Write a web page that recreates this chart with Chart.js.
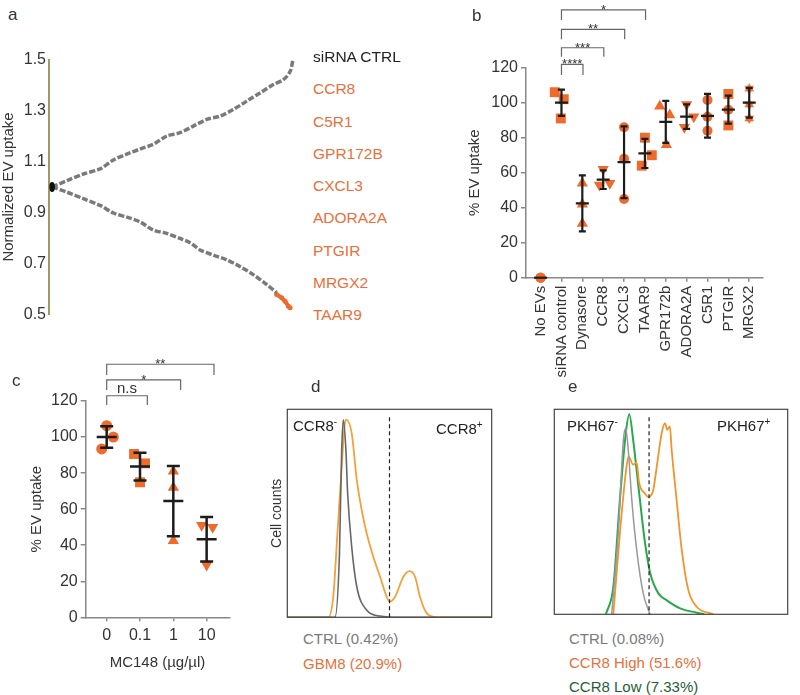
<!DOCTYPE html>
<html>
<head>
<meta charset="utf-8">
<script src="https://cdn.jsdelivr.net/npm/chart.js@4.4.1/dist/chart.umd.min.js"></script>
<style>
body{margin:0;background:#fff;font-family:"Liberation Sans",Arial,sans-serif;color:#333;}
#wrap{position:relative;width:800px;height:695px;overflow:hidden;}
canvas{position:absolute;}
.t{position:absolute;white-space:nowrap;font-size:15px;line-height:18px;}
.lab{position:absolute;font-size:17px;line-height:20px;color:#333;}
.gene{position:absolute;left:313px;font-size:15.5px;line-height:18px;color:#e8703a;white-space:nowrap;}
sup{font-size:10px;}
</style>
</head>
<body>
<div id="wrap">
  <canvas id="chartA" width="300" height="280" style="left:0;top:47px"></canvas>
  <canvas id="chartB" width="340" height="380" style="left:460px;top:0"></canvas>
  <canvas id="chartC" width="260" height="355" style="left:0;top:340px"></canvas>
  <canvas id="chartD" width="240" height="230" style="left:262px;top:400px"></canvas>
  <canvas id="chartE" width="255" height="230" style="left:540px;top:400px"></canvas>

  <div class="lab" style="left:8px;top:5px">a</div>
  <div class="lab" style="left:472px;top:6px">b</div>
  <div class="lab" style="left:12px;top:371px">c</div>
  <div class="lab" style="left:311px;top:377px">d</div>
  <div class="lab" style="left:568px;top:377px">e</div>
  <div id="genes"></div>

  <div class="t" style="left:293px;top:413px;color:#222">CCR8<sup>-</sup></div>
  <div class="t" style="left:436px;top:416px;color:#222">CCR8<sup>+</sup></div>
  <div class="t" style="left:303px;top:630px;color:#7a7a7a">CTRL (0.42%)</div>
  <div class="t" style="left:303px;top:655px;color:#e8703a">GBM8 (20.9%)</div>

  <div class="t" style="left:567px;top:413px;color:#222">PKH67<sup>-</sup></div>
  <div class="t" style="left:717px;top:413px;color:#222">PKH67<sup>+</sup></div>
  <div class="t" style="left:569px;top:630px;color:#7a7a7a">CTRL (0.08%)</div>
  <div class="t" style="left:569px;top:654px;color:#e8703a">CCR8 High (51.6%)</div>
  <div class="t" style="left:569px;top:678px;color:#1f5e35">CCR8 Low (7.33%)</div>
</div>

<script>
// ---- panel a : ranked siRNA screen ----
const rankUp = [0,6.2,13,19.9,25.4,31,36.5,42,47.6,53.1,58.6,64.2,69.7,75.2,80.8,86.3,91.8,96,98.8,100];
const upUptake = [1.0,1.025,1.051,1.071,1.106,1.129,1.149,1.168,1.2,1.213,1.239,1.265,1.278,1.304,1.337,1.369,1.402,1.421,1.453,1.5];
const rankDown = [0,6.1,13,19.9,25.4,31,36.5,42,47.6,53.1,57.3,61.4,66.9,72.5,78,83.5,89.1,93.2];
const downUptake = [1.0,0.98,0.954,0.928,0.898,0.882,0.863,0.831,0.818,0.798,0.781,0.753,0.733,0.714,0.688,0.656,0.617,0.585];
const rankHits = [93.2,95.3,96.7,98.1,98.8];
const hitUptake = [0.578,0.565,0.552,0.532,0.526];
const startUptake = 1.0;
const geneLabels = ["siRNA CTRL","CCR8","C5R1","GPR172B","CXCL3","ADORA2A","PTGIR","MRGX2","TAAR9"];

// ---- panel b : validation ----
const groupsB = ["No EVs","siRNA control","Dynasore","CCR8","CXCL3","TAAR9","GPR172b","ADORA2A","C5R1","PTGIR","MRGX2"];
const repsB = [[0,0,0],[106,102,91],[54,31,42],[62,53,54],[86,68,45],[80,64,70],[98,93,76],[99,86,92],[101.5,84,92],[105,87,96],[108,91,99]];
const meanB = [0,100,42.5,56,66,71,89,92,92.5,96,100];
const sdB = [0,7.5,16,5.3,20.5,8.3,12,7,12.5,8,8.5];
const sigB = [["****",1,2],["***",1,3],["**",1,4],["*",1,5]];

// ---- panel c : MC148 dose ----
const dosesC = ["0","0.1","1","10"];
const repsC = [[106.3,100,93.4],[90.6,85.4,74.9],[81,72,42.5],[51,50,29]];
const meanC = [100,83.6,64.5,43.3];
const sdC = [6,7.7,19.5,12.4];
const sigC = [["n.s",0,1],["*",0,2],["**",0,3]];

// ---- panel d : CCR8 histogram ----
const dGrayX = [0,23.3,25.5,26.6,27.4,28.7,29.5,31.5,34,38.8,45.4,55,100];
const dGrayY = [0,0,30,80,95,80,60,34,14.7,3.5,0.6,0,0];
const dGbmX = [0,20,22.5,24.5,26.6,28,28.8,31.5,34,36.4,38.8,42.1,45.4,48.6,50.1,52.7,56.8,59.8,62.5,64.9,68.2,73,100];
const dGbmY = [0,0,10,40,72,92,95,88.5,66,51.6,40.5,29,19.5,9.9,7.5,9.9,19.5,22.2,19.5,9.9,2,0,0];
const gateD = 50;

// ---- panel e : PKH67 histogram ----
const eGrayX = [24.6,27.4,29.6,30.6,31.7,33.2,35.3,38.1,41];
const eGrayY = [0,39.5,85,90.7,80,55.8,31.4,10.2,0];
const eLowX = [22.1,25.3,28.1,30.6,32.1,33.8,36.3,38.9,41.1,44.6,48.2,53.9,61.1,64.3];
const eLowY = [0,13.5,55.8,88,97.6,85,59.7,34.6,20,10.2,6.8,2.9,0.8,0];
const eHighX = [25.3,28.1,30.6,31.8,33.8,35.3,36.3,38.9,40.3,42.4,43.9,46,47.4,48.4,49.5,50.3,52.4,54.6,57.4,61,68.1];
const eHighY = [0,39.5,68.8,77,73,74,64.4,58.8,57.2,60.6,72,88.3,93.2,90,91.6,80,55.8,31.4,11.9,3.7,0];
const gateE = 40.6;

const ORANGE = '#ef6a2b';
Chart.defaults.font.family = "'Liberation Sans', Arial, sans-serif";
Chart.defaults.color = '#333';

document.getElementById('genes').innerHTML = geneLabels.map((g,i)=>
  '<div class="gene" style="top:'+(48+i*32.25)+'px;'+(i===0?'color:#222':'')+'">'+g+'</div>').join('');

const xy = (xs,ys)=>xs.map((x,i)=>({x:x,y:ys[i]}));

function star6(){
  const c=document.createElement('canvas'); c.width=11; c.height=11;
  const g=c.getContext('2d'); g.fillStyle=ORANGE;
  g.beginPath(); g.moveTo(5.5,0); g.lineTo(10.3,8.25); g.lineTo(0.7,8.25); g.closePath(); g.fill();
  g.beginPath(); g.moveTo(5.5,11); g.lineTo(0.7,2.75); g.lineTo(10.3,2.75); g.closePath(); g.fill();
  return c;
}

function errorPlugin(means, sds, st){
  return {id:'errorBars', afterDatasetsDraw(chart){
    const {ctx, scales:{x,y}} = chart;
    ctx.save(); ctx.strokeStyle='#1c1c1c'; ctx.lineWidth=st.w;
    means.forEach((m,i)=>{
      const cx=x.getPixelForValue(i), ym=y.getPixelForValue(m);
      const yt=y.getPixelForValue(m+sds[i]), yb=y.getPixelForValue(m-sds[i]);
      ctx.beginPath();
      ctx.moveTo(cx-st.mean,ym); ctx.lineTo(cx+st.mean,ym);
      if(sds[i]>0){
        ctx.moveTo(cx,yt); ctx.lineTo(cx,yb);
        ctx.moveTo(cx-st.cap,yt); ctx.lineTo(cx+st.cap,yt);
        ctx.moveTo(cx-st.cap,yb); ctx.lineTo(cx+st.cap,yb);
      }
      ctx.stroke();
    });
    ctx.restore();
  }};
}

function bracketPlugin(sig, levels, st){
  return {id:'brackets', afterDraw(chart){
    const {ctx, scales:{x,y}} = chart;
    ctx.save(); ctx.strokeStyle='#666'; ctx.lineWidth=1.2; ctx.fillStyle='#333';
    ctx.textAlign='center'; ctx.textBaseline='alphabetic';
    sig.forEach((s,i)=>{
      const x1=x.getPixelForValue(s[1]), x2=x.getPixelForValue(s[2]+st.shift);
      const yt=y.getPixelForValue(levels[i][0]), yl=y.getPixelForValue(levels[i][1]);
      ctx.beginPath(); ctx.moveTo(x1,yl); ctx.lineTo(x1,yt); ctx.lineTo(x2,yt); ctx.lineTo(x2,yl); ctx.stroke();
      const star = s[0].indexOf('*')===0;
      ctx.font = (star?st.star:st.text)+"px 'Liberation Sans', Arial, sans-serif";
      ctx.fillText(s[0], (x1+x2)/2, yt + (star?st.starDy:st.textDy));
    });
    ctx.restore();
  }};
}

function framePlugin(gate){
  return {id:'frame', afterDatasetsDraw(chart){
    const {ctx, chartArea:a, scales:{x}} = chart;
    ctx.save();
    ctx.strokeStyle='#444'; ctx.lineWidth=1.2;
    ctx.strokeRect(a.left,a.top,a.right-a.left,a.bottom-a.top);
    const gx=x.getPixelForValue(gate);
    ctx.setLineDash([4,3]); ctx.strokeStyle='#222';
    ctx.beginPath(); ctx.moveTo(gx,a.top+8); ctx.lineTo(gx,a.bottom); ctx.stroke();
    ctx.restore();
  }};
}

const originDot = {id:'originDot', afterDatasetsDraw(chart){
  const {ctx, scales:{x,y}} = chart;
  ctx.save(); ctx.fillStyle='#111';
  ctx.beginPath(); ctx.ellipse(x.getPixelForValue(0), y.getPixelForValue(startUptake), 2.8, 5, 0, 0, Math.PI*2); ctx.fill();
  ctx.restore();
}};

const noTip = {legend:{display:false}, tooltip:{enabled:false}};

// ===== panel a =====
new Chart(document.getElementById('chartA'), {
  type:'scatter',
  data:{datasets:[
    {data:xy(rankUp,upUptake), showLine:true, borderColor:'#7a7a7a', borderWidth:3.5, borderDash:[6,2], pointRadius:0, tension:0.3, clip:false},
    {data:xy(rankDown,downUptake), showLine:true, borderColor:'#7a7a7a', borderWidth:3.5, borderDash:[6,2], pointRadius:0, tension:0.3, clip:false},
    {data:xy(rankHits,hitUptake), showLine:true, borderColor:ORANGE, borderWidth:4, pointRadius:2.5, pointBackgroundColor:ORANGE, pointBorderWidth:0, clip:false}
  ]},
  options:{responsive:false, animation:false, layout:{padding:{left:0,top:10.5,right:7,bottom:12}}, plugins:noTip,
    scales:{
      x:{type:'linear', display:false, min:-1.3, max:100},
      y:{min:0.5, max:1.5, ticks:{stepSize:0.2, padding:3, font:{size:16}, color:'#333', callback:v=>v.toFixed(1)},
         grid:{display:false, drawTicks:false}, border:{color:'#a39763', width:2},
         title:{display:true, text:'Normalized EV uptake', font:{size:15}, color:'#333', padding:{top:0,bottom:0}},
         afterFit:s=>{s.width=49;}}
    }},
  plugins:[originDot]
});

// ===== panel b =====
const shapesB = ['circle','rect','triangle','triangle','circle','rect','triangle','triangle','circle','rect','star'];
const radiusB = {circle:5, rect:7, triangle:6.5, star:5.5};
const jitterB = [[0,0,0],[-0.32,0.11,-0.03],[0,0,0],[0,-0.18,0.32],[0,0,0],[0,-0.15,0.33],[-0.29,0.19,0.03],[0,-0.11,0.34],[0,0,0],[0,0,0],[0,0,0]];
const star6Img = star6();
const dsB = groupsB.map((g,i)=>{
  const sh = shapesB[i];
  return {
    data: repsB[i].map((v,j)=>({x:i+jitterB[i][j], y:v})),
    pointStyle: sh==='star' ? star6Img : (i===9 ? ['rect','rect','circle'] : sh),
    pointRadius: i===9 ? [7,7,5] : radiusB[sh],
    pointRotation: (i===3||i===7) ? 180 : 0,
    pointBackgroundColor: ORANGE, pointBorderWidth:0, clip:false
  };
});
new Chart(document.getElementById('chartB'), {
  type:'scatter',
  data:{datasets:dsB},
  options:{responsive:false, animation:false, layout:{padding:{left:0,top:67.7,right:37,bottom:0}}, plugins:noTip,
    scales:{
      x:{type:'linear', min:-0.7, max:10.66,
         afterBuildTicks:s=>{s.ticks=groupsB.map((g,i)=>({value:i}));},
         ticks:{callback:v=>groupsB[v], autoSkip:false, maxRotation:90, minRotation:90, padding:4, font:{size:15}, color:'#333'},
         grid:{drawOnChartArea:false, tickLength:4, color:'#888', lineWidth:1.5}, border:{color:'#888', width:1.5},
         afterFit:s=>{s.height=102.3;}},
      y:{min:0, max:120, ticks:{stepSize:20, padding:3, font:{size:16}, color:'#333'},
         grid:{drawOnChartArea:false, tickLength:5, color:'#888', lineWidth:1.5}, border:{color:'#888', width:1.5},
         title:{display:true, text:'% EV uptake', font:{size:15}, color:'#333', padding:{top:6,bottom:0}},
         afterFit:s=>{s.width=66;}}
    }},
  plugins:[errorPlugin(meanB, sdB, {w:2.2, mean:6.5, cap:3.5}),
           bracketPlugin(sigB, [[121.9,115.8],[131.4,126.3],[141.9,136.2],[153,147.3]], {shift:0.03, star:13, text:14, starDy:4, textDy:-3})]
});

// ===== panel c =====
const shapesC = ['circle','rect','triangle','triangle'];
const radiusC = [5.5,7,6.5,6.5];
const jitterC = [[0,0.2,-0.15],[-0.18,0.15,0],[0,0,0],[-0.15,0.18,0]];
new Chart(document.getElementById('chartC'), {
  type:'scatter',
  data:{datasets:dosesC.map((d,i)=>({
    data: repsC[i].map((v,j)=>({x:i+jitterC[i][j], y:v})),
    pointStyle: shapesC[i], pointRadius: radiusC[i], pointRotation: i===3 ? 180 : 0,
    pointBackgroundColor: ORANGE, pointBorderWidth:0, clip:false
  }))},
  options:{responsive:false, animation:false, layout:{padding:{left:0,top:61,right:30.7,bottom:19}}, plugins:noTip,
    scales:{
      x:{type:'linear', min:-0.63, max:3.68,
         afterBuildTicks:s=>{s.ticks=dosesC.map((d,i)=>({value:i}));},
         ticks:{callback:v=>dosesC[v], autoSkip:false, maxRotation:0, padding:5, font:{size:16}, color:'#333'},
         grid:{drawOnChartArea:false, tickLength:4, color:'#888', lineWidth:1.5}, border:{color:'#888', width:1.5},
         title:{display:true, text:'MC148 (µg/µl)', font:{size:15}, color:'#333', padding:{top:8,bottom:4}},
         afterFit:s=>{s.height=58.7;}},
      y:{min:0, max:120, ticks:{stepSize:20, padding:3, font:{size:16}, color:'#333'},
         grid:{drawOnChartArea:false, tickLength:5, color:'#888', lineWidth:1.5}, border:{color:'#888', width:1.5},
         title:{display:true, text:'% EV uptake', font:{size:15}, color:'#333', padding:{top:28,bottom:0}},
         afterFit:s=>{s.width=85.7;}}
    }},
  plugins:[errorPlugin(meanC, sdC, {w:2.5, mean:10, cap:6.5}),
           bracketPlugin(sigC, [[122.9,117.8],[131.7,126.1],[140.4,134.4]], {shift:0.22, star:13, text:15, starDy:4, textDy:-3})]
});

// ===== panel d =====
const histLine = (xs,ys,col,w)=>({data:xy(xs,ys), showLine:true, borderColor:col, borderWidth:w, pointRadius:0, cubicInterpolationMode:'monotone'});
new Chart(document.getElementById('chartD'), {
  type:'scatter',
  data:{datasets:[histLine(dGrayX,dGrayY,'#666',1.6), histLine(dGbmX,dGbmY,'#f2a23c',1.8)]},
  options:{responsive:false, animation:false, layout:{padding:{left:0,top:9.3,right:10.3,bottom:12.7}}, plugins:noTip,
    scales:{
      x:{type:'linear', display:false, min:0, max:100},
      y:{min:0, max:100, ticks:{display:false}, grid:{display:false}, border:{display:false},
         title:{display:true, text:'Cell counts', font:{size:14}, color:'#333', padding:{top:6.6,bottom:0}},
         afterFit:s=>{s.width=25.3;}}
    }},
  plugins:[framePlugin(gateD)]
});

// ===== panel e =====
new Chart(document.getElementById('chartE'), {
  type:'scatter',
  data:{datasets:[histLine(eGrayX,eGrayY,'#999',1.5), histLine(eHighX,eHighY,'#f0952e',1.8), histLine(eLowX,eLowY,'#2aa84a',2)]},
  options:{responsive:false, animation:false, layout:{padding:{left:14.3,top:9.3,right:7.3,bottom:15.7}}, plugins:noTip,
    scales:{
      x:{type:'linear', display:false, min:0, max:100},
      y:{display:false, min:0, max:100}
    }},
  plugins:[framePlugin(gateE)]
});
</script>
</body>
</html>
